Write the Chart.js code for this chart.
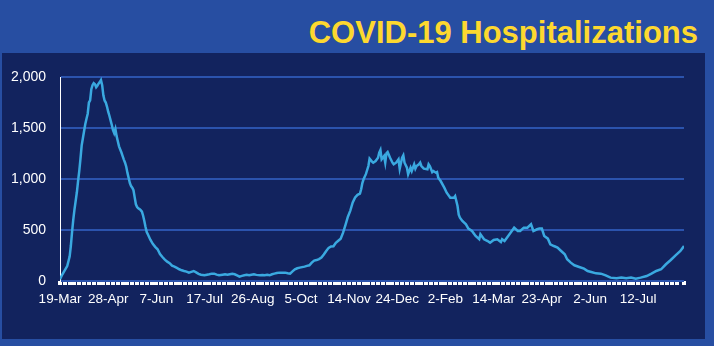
<!DOCTYPE html>
<html>
<head>
<meta charset="utf-8">
<script src="https://cdn.jsdelivr.net/npm/chart.js"></script>
<style>
  body { margin: 0; width: 714px; height: 346px; background: #274ea2; overflow: hidden; position: relative; }
  .title { position: absolute; right: 16px; top: 17px; font: bold 31px "Liberation Sans", Arial, sans-serif; line-height: 31px; color: #fdd82f; white-space: nowrap; }
  .panel { position: absolute; left: 2px; top: 53px; width: 703px; height: 286px; background: #12235e; }
  canvas { position: absolute; left: 0; top: 0; }
</style>
</head>
<body>
<div class="title">COVID-19 Hospitalizations</div>
<div class="panel"></div>
<canvas id="chart" width="714" height="346"></canvas>
<script>
// days since 19-Mar (2020) and patients in hospital
const days = [
  0, 2, 6, 8, 9, 10, 11, 12, 13, 14, 15, 16, 17, 18, 19, 20, 21, 22, 23, 24,
  25, 26, 27, 28, 29, 30, 31, 32, 33, 34, 35, 36, 37, 38, 39, 40, 41, 42, 43, 44,
  45, 46, 47, 48, 49, 50, 51, 52, 53, 54, 55, 56, 57, 58, 59, 60, 61, 62, 63, 64,
  65, 66, 67, 68, 69, 70, 71, 72, 73, 75, 77, 79, 81, 83, 85, 87, 89, 91, 93, 95,
  97, 99, 101, 103, 105, 107, 109, 111, 113, 115, 117, 120, 122, 124, 126, 128, 130, 132, 135, 137,
  139, 141, 143, 145, 147, 149, 151, 153, 155, 157, 159, 161, 163, 166, 168, 170, 172, 174, 176, 178,
  180, 182, 184, 187, 189, 191, 193, 195, 197, 199, 201, 203, 205, 207, 209, 211, 213, 215, 217, 219,
  221, 223, 225, 227, 229, 231, 233, 235, 237, 239, 241, 243, 245, 247, 249, 250, 251, 252, 254, 256,
  257, 259, 260, 262, 264, 265, 266, 267, 269, 270, 271, 272, 274, 276, 277, 279, 281, 282, 284, 285,
  286, 288, 289, 291, 292, 294, 295, 296, 298, 299, 300, 302, 305, 306, 307, 309, 310, 312, 313, 314,
  316, 319, 321, 324, 327, 328, 330, 331, 332, 334, 337, 339, 342, 345, 348, 349, 352, 355, 357, 360,
  363, 366, 367, 369, 371, 374, 377, 380, 382, 385, 388, 391, 393, 396, 398, 400, 402, 405, 407, 410,
  413, 416, 419, 421, 424, 427, 431, 435, 438, 441, 445, 449, 453, 457, 462, 466, 470, 474, 478, 482,
  487, 491, 495, 499, 503, 507, 511, 515, 518
];
const hospitalized = [
  17, 66, 147, 240, 343, 480, 600, 700, 784, 870, 980, 1080, 1200, 1330, 1400, 1470, 1540, 1590, 1640, 1750,
  1770, 1880, 1920, 1940, 1930, 1900, 1915, 1935, 1950, 1970, 1920, 1820, 1770, 1750, 1710, 1660, 1620, 1575, 1530, 1480,
  1450, 1490, 1420, 1370, 1320, 1290, 1260, 1225, 1190, 1160, 1120, 1060, 1010, 960, 930, 915, 890, 820, 752, 725,
  712, 705, 695, 680, 640, 588, 530, 480, 455, 405, 365, 335, 311, 265, 235, 210, 190, 175, 150, 141,
  128, 115, 105, 98, 92, 82, 90, 98, 85, 70, 62, 56, 62, 66, 72, 72, 62, 56, 62, 66,
  62, 66, 70, 66, 55, 43, 50, 56, 60, 56, 62, 66, 60, 56, 58, 56, 60, 56, 66, 72,
  78, 82, 80, 82, 76, 72, 95, 115, 125, 131, 136, 141, 148, 154, 180, 200, 205, 215, 230, 260,
  294, 325, 338, 340, 375, 395, 415, 474, 550, 630, 690, 770, 820, 845, 856, 899, 960, 997, 1050, 1127,
  1199, 1170, 1160, 1176, 1209, 1258, 1284, 1193, 1225, 1160, 1251, 1264, 1209, 1160, 1144, 1160, 1193, 1101, 1209, 1232,
  1160, 1111, 1046, 1111, 1078, 1144, 1101, 1127, 1144, 1160, 1127, 1101, 1095, 1144, 1127, 1068, 1078, 1062, 1068, 1013,
  980, 915, 866, 817, 817, 833, 735, 650, 621, 588, 556, 514, 490, 441, 409, 458, 409, 392, 376, 402,
  409, 382, 409, 392, 425, 474, 523, 490, 490, 523, 523, 556, 490, 507, 514, 514, 441, 415, 360, 343,
  327, 294, 262, 213, 180, 154, 137, 121, 98, 88, 75, 72, 56, 33, 26, 33, 26, 33, 23, 33,
  49, 72, 98, 115, 164, 206, 252, 294, 343
];
// one label every 40 days
const tickLabels = ['19-Mar', '28-Apr', '7-Jun', '17-Jul', '26-Aug', '5-Oct', '14-Nov',
  '24-Dec', '2-Feb', '14-Mar', '23-Apr', '2-Jun', '12-Jul'];
const labelEvery = 40;

new Chart(document.getElementById('chart'), {
  type: 'line',
  data: {
    datasets: [{
      data: days.map((d, i) => ({ x: d, y: hospitalized[i] })),
      borderColor: '#3aa9e0',
      borderWidth: 2.5,
      pointRadius: 0,
      tension: 0,
      fill: false
    }]
  },
  options: {
    responsive: false,
    animation: false,
    layout: { padding: { left: 0, top: 77, right: 30, bottom: 0 } },
    plugins: { legend: { display: false }, tooltip: { enabled: false } },
    scales: {
      x: {
        type: 'linear',
        min: 0,
        max: 518,
        afterFit: (scale) => { scale.height = 65; },
        border: { display: false },
        // white tick marks every 4 days make the dashed axis band
        grid: { drawOnChartArea: false, color: '#ffffff', lineWidth: 4, tickLength: 4 },
        ticks: {
          stepSize: 4,
          maxTicksLimit: 200,
          autoSkip: false,
          maxRotation: 0,
          padding: 6,
          color: '#ffffff',
          font: { family: '"Liberation Sans", Arial, sans-serif', size: 13.5 },
          callback: (v) => (v % labelEvery === 0 && tickLabels[v / labelEvery]) || ''
        }
      },
      y: {
        min: 0,
        max: 2000,
        afterFit: (scale) => { scale.width = 60; },
        border: { color: '#ffffff', width: 1 },
        grid: { color: '#2b53ad', lineWidth: 2, drawTicks: false },
        ticks: {
          stepSize: 500,
          padding: 14,
          color: '#ffffff',
          font: { family: '"Liberation Sans", Arial, sans-serif', size: 14 },
          callback: (v) => v.toLocaleString('en-US')
        }
      }
    }
  }
});
</script>
</body>
</html>
